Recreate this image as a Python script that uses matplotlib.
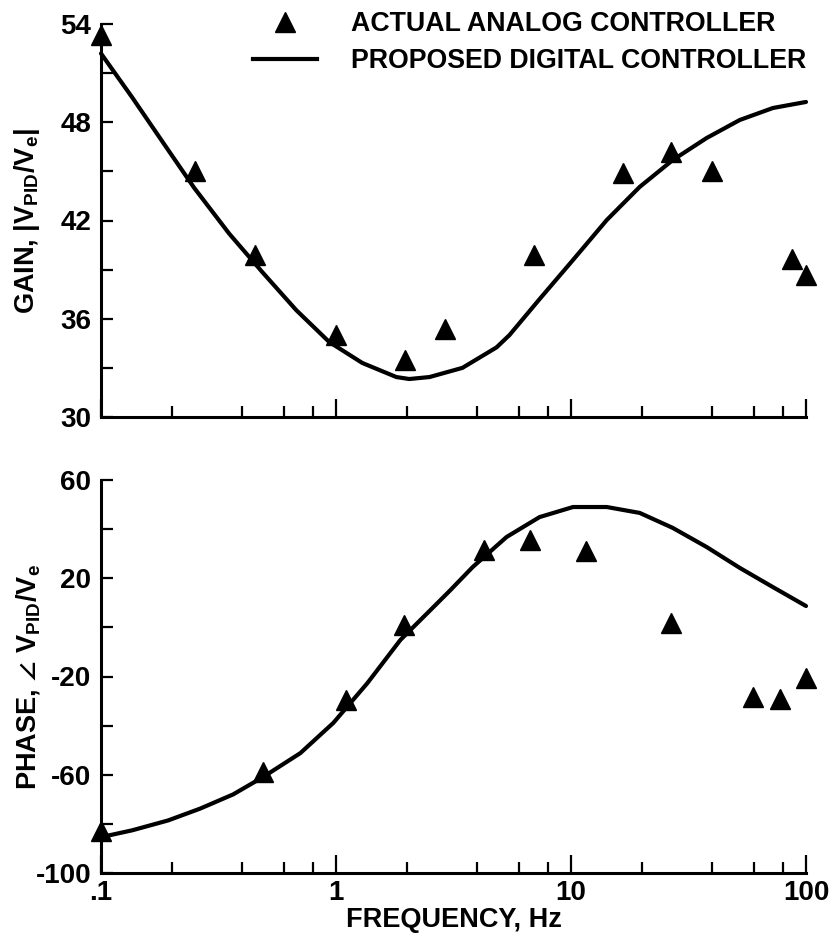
import matplotlib
matplotlib.use('Agg')
import matplotlib.pyplot as plt
from matplotlib.lines import Line2D

plt.rcParams['font.family'] = ['Liberation Sans', 'DejaVu Sans']
plt.rcParams['font.weight'] = 'bold'
plt.rcParams['mathtext.fontset'] = 'custom'
plt.rcParams['mathtext.rm'] = 'Liberation Sans:bold'
plt.rcParams['mathtext.it'] = 'Liberation Sans:bold'
plt.rcParams['mathtext.bf'] = 'Liberation Sans:bold'
plt.rcParams['mathtext.sf'] = 'Liberation Sans:bold'
plt.rcParams['mathtext.fallback'] = 'stixsans'

# ---- data ----
gain_meas_freq = [0.1, 0.25, 0.45, 1.0, 1.97, 2.9, 6.95, 16.7, 26.6, 39.7, 87.5, 100]
gain_meas = [53.3, 45.0, 39.9, 35.0, 33.5, 35.4, 39.9, 44.9, 46.2, 45.0, 39.65, 38.7]

gain_curve_freq = [0.1, 0.136, 0.189, 0.249, 0.351, 0.485, 0.677, 0.936, 1.294, 1.806,
                   2.05, 2.5, 3.45, 4.82, 5.47, 7.35, 10.2, 14.2, 19.6, 27.1, 37.8,
                   52.3, 72.3, 100]
gain_curve = [52.2, 49.5, 46.5, 44.0, 41.2, 38.86, 36.53, 34.58, 33.3, 32.44,
              32.32, 32.44, 33.0, 34.25, 35.0, 37.2, 39.59, 42.03, 44.05, 45.69, 47.04,
              48.14, 48.87, 49.24]

phase_meas_freq = [0.1, 0.49, 1.1, 1.94, 4.28, 6.7, 11.6, 26.6, 59.4, 77.4, 100]
phase_meas = [-83.0, -58.9, -29.6, 1.0, 31.5, 35.6, 31.1, 1.8, -28.4, -29.2, -20.6]

phase_curve_freq = [0.1, 0.136, 0.193, 0.264, 0.365, 0.49, 0.705, 0.974, 1.36, 1.88,
                    2.6, 3.07, 3.82, 5.32, 7.35, 10.2, 14.2, 19.6, 27.1, 37.8, 52.3,
                    72.3, 100]
phase_curve = [-85.4, -82.6, -78.6, -73.8, -68.0, -60.9, -51.2, -38.9, -22.7, -5.1,
               8.3, 15.2, 24.6, 36.8, 44.9, 49.0, 49.0, 46.6, 40.5, 32.7, 24.2,
               16.4, 8.7]

freq_ticks = [0.1, 0.2, 0.4, 0.6, 0.8, 1, 2, 4, 6, 8, 10, 20, 40, 60, 80, 100]
freq_major = [0.1, 1, 10, 100]
freq_labels = ['.1', '1', '10', '100']
gain_ticks = [30, 33, 36, 39, 42, 45, 48, 51, 54]
gain_labels = ['30', '', '36', '', '42', '', '48', '', '54']
phase_ticks = [-100, -80, -60, -40, -20, 0, 20, 40, 60]
phase_labels = ['-100', '', '-60', '', '-20', '', '20', '', '60']

legend_labels = ['ACTUAL ANALOG CONTROLLER', 'PROPOSED DIGITAL CONTROLLER']

# ---- figure ----
W, H = 831, 944
fig = plt.figure(figsize=(W / 100, H / 100), dpi=100)
L, R = 101 / W, 806 / W
ax1 = fig.add_axes([L, 1 - 417 / H, R - L, (417 - 24) / H])
ax2 = fig.add_axes([L, 1 - 873 / H, R - L, (873 - 480) / H])

FS = 20
LW_SP = 2.2
for ax in (ax1, ax2):
    ax.set_xscale('log')
    ax.set_xlim(0.1, 100)
    for s in ('top', 'right'):
        ax.spines[s].set_visible(False)
    for s in ('left', 'bottom'):
        ax.spines[s].set_linewidth(LW_SP)
    minors = [t for t in freq_ticks if t not in freq_major]
    ax.set_xticks(freq_major)
    ax.set_xticks(minors, minor=True)
    ax.tick_params(axis='x', which='major', direction='in', length=13, width=1.6,
                   labelsize=FS, pad=5)
    ax.tick_params(axis='x', which='minor', direction='in', length=8, width=1.6)
    ax.tick_params(axis='y', which='major', direction='in', length=8.5, width=1.6,
                   labelsize=FS, pad=7)
    ax.tick_params(axis='y', which='minor', left=False)

ax1.set_xticklabels([])
ax1.xaxis.set_minor_formatter(plt.NullFormatter())
ax2.set_xticklabels(freq_labels)
ax2.xaxis.set_minor_formatter(plt.NullFormatter())

ax1.set_ylim(30, 54)
ax1.set_yticks(gain_ticks)
ax1.set_yticklabels(gain_labels)
ax2.set_ylim(-100, 60)
ax2.set_yticks(phase_ticks)
ax2.set_yticklabels(phase_labels)

mk = dict(marker='^', linestyle='none', color='black', markersize=15, clip_on=False, zorder=5)
ln = dict(color='black', linewidth=3.0, clip_on=False, solid_capstyle='round',
          solid_joinstyle='round')

ax1.plot(gain_curve_freq, gain_curve, **ln)
ax1.plot(gain_meas_freq, gain_meas, **mk)
ax2.plot(phase_curve_freq, phase_curve, **ln)
ax2.plot(phase_meas_freq, phase_meas, **mk)

LBL = 19.5
ax1.set_ylabel(r'GAIN, |V$_{\mathrm{PID}}$/V$_{\mathrm{e}}$|', fontsize=LBL, fontweight='bold')
ax2.set_ylabel(r'PHASE, $\angle$ V$_{\mathrm{PID}}$/V$_{\mathrm{e}}$', fontsize=LBL, fontweight='bold')
ax1.yaxis.set_label_coords(-0.083, 0.5)
ax2.yaxis.set_label_coords(-0.083, 0.5)
ax2.set_xlabel('FREQUENCY, Hz', fontsize=LBL, fontweight='bold', labelpad=1)

handles = [Line2D([], [], marker='^', linestyle='none', color='black', markersize=15),
           Line2D([], [], color='black', linewidth=3.0)]
fig.legend(handles, legend_labels, loc='upper left', bbox_to_anchor=(253 / W, 1 - 11 / H),
           frameon=False, handlelength=2.4, handletextpad=1.27,
           labelspacing=0.42, borderpad=0, borderaxespad=0,
           prop={'weight': 'bold', 'size': 19.3})

fig.savefig('out.png', dpi=100)
